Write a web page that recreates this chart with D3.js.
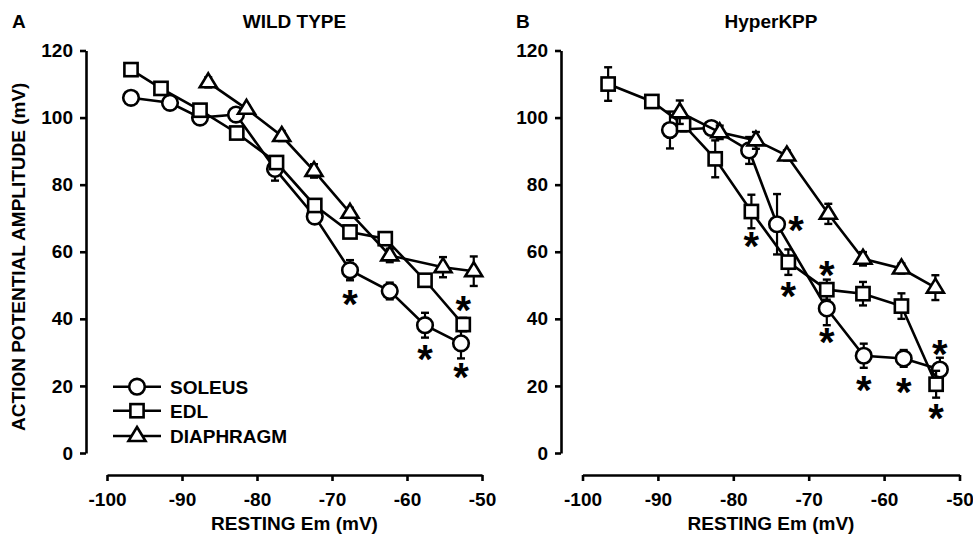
<!DOCTYPE html>
<html><head><meta charset="utf-8">
<script src="https://cdn.jsdelivr.net/npm/d3@7"></script>
<style>
body{margin:0;background:#fff}
text{font-family:"Liberation Sans",Arial,sans-serif;font-weight:bold;fill:#000}
</style>
</head><body><svg id="c" width="973" height="540"></svg>
<script>
// ---- data ----
const xTicks=[-100,-90,-80,-70,-60,-50];
const yTicks=[0,20,40,60,80,100,120];
const seriesNames=["SOLEUS","EDL","DIAPHRAGM"];
const seriesShapes=["circle","square","triangle"];
const panelLetters=["A","B"];
const panelTitles=["WILD TYPE","HyperKPP"];
const xLabel="RESTING Em (mV)";
const yLabel="ACTION POTENTIAL AMPLITUDE (mV)";

// Panel A (wild type)
const wtSoleusX=[-96.8,-91.6,-87.6,-82.8,-77.6,-72.3,-67.6,-62.3,-57.6,-52.8];
const wtSoleusY=[105.9,104.4,100.0,100.9,84.7,70.5,54.5,48.3,38.1,32.7];
const wtSoleusErr=[1,1,1,1.5,3.5,1.5,3,2.5,3.7,4.5];
const wtEdlX=[-96.8,-92.8,-87.6,-82.7,-77.4,-72.3,-67.6,-62.9,-57.6,-52.5];
const wtEdlY=[114.3,108.7,102.2,95.4,86.6,73.8,65.9,63.9,51.5,38.3];
const wtEdlErr=[1,1,1,1,1.5,1.5,1.5,1.5,1.5,2];
const wtDiaX=[-86.5,-81.4,-76.7,-72.4,-67.6,-62.3,-55.2,-51.1];
const wtDiaY=[110.5,102.6,94.5,84.1,71.6,58.9,55.4,54.2];
const wtDiaErr=[1.5,1,1.5,2,1.5,2,3,4.4];

// Panel B (HyperKPP)
const hkSoleusX=[-88.4,-82.9,-77.9,-74.2,-67.6,-62.7,-57.4,-52.6];
const hkSoleusY=[96.3,96.9,90.2,68.2,43.1,29.0,28.2,24.9];
const hkSoleusErr=[5.5,1.5,4,9,5,3.6,2.5,3.5];
const hkEdlX=[-96.6,-90.8,-86.6,-82.4,-77.6,-72.7,-67.6,-62.8,-57.7,-53.1];
const hkEdlY=[110,104.8,97.9,87.7,72,56.9,48.7,47.5,43.8,20.5];
const hkEdlErr=[5,1,2,5.5,5,3.8,3,3.5,3.8,4];
const hkDiaX=[-87.1,-81.8,-77,-72.9,-67.4,-62.8,-57.7,-53.2];
const hkDiaY=[101.6,95.6,93.2,88.7,71.3,57.9,55,49.3];
const hkDiaErr=[3.5,2,2.5,1.5,3,2,1.5,3.7];

// significance asterisks: [series index, point index, placement]
const wtStars=[[0,6,"below"],[0,8,"below"],[0,9,"below"],[1,9,"above"]];
const hkStars=[[0,3,"right"],[0,4,"below"],[0,5,"below"],[0,6,"below"],[0,7,"above"],
               [1,4,"below"],[1,5,"below"],[1,6,"above"],[1,9,"below"]];

// ---- build ----
function mk(xs,ys,es){return xs.map((x,i)=>({x:x,y:ys[i],e:es[i]}));}
const panels=[
  {letter:panelLetters[0],title:panelTitles[0],showY:true,stars:wtStars,
   series:[mk(wtSoleusX,wtSoleusY,wtSoleusErr),mk(wtEdlX,wtEdlY,wtEdlErr),mk(wtDiaX,wtDiaY,wtDiaErr)],
   yAxisX:86,x0:107,x1:482,letterX:12},
  {letter:panelLetters[1],title:panelTitles[1],showY:false,stars:hkStars,
   series:[mk(hkSoleusX,hkSoleusY,hkSoleusErr),mk(hkEdlX,hkEdlY,hkEdlErr),mk(hkDiaX,hkDiaY,hkDiaErr)],
   yAxisX:561,x0:582.5,x1:959.5,letterX:516}
];

const svg=d3.select("#c");
const FS=19;
const yTop=50.5, yBot=453, xAxisY=475;
const SFS=40;

function marker(g,shape,cx,cy){
  const sw=2.6;
  if(shape==="circle"){
    g.append("circle").attr("cx",cx).attr("cy",cy).attr("r",7.8)
     .attr("fill","#fff").attr("stroke","#000").attr("stroke-width",sw);
  }else if(shape==="square"){
    g.append("rect").attr("x",cx-6.6).attr("y",cy-6.6).attr("width",13.2).attr("height",13.2)
     .attr("fill","#fff").attr("stroke","#000").attr("stroke-width",sw);
  }else{
    const s=8;
    g.append("path").attr("d",`M${cx},${cy-s-1}L${cx+s+0.5},${cy+s*0.62}L${cx-s-0.5},${cy+s*0.62}Z`)
     .attr("fill","#fff").attr("stroke","#000").attr("stroke-width",sw).attr("stroke-linejoin","miter");
  }
}

panels.forEach(p=>{
  const x=d3.scaleLinear().domain([-100,-50]).range([p.x0,p.x1]);
  const y=d3.scaleLinear().domain([0,120]).range([yBot,yTop]);
  const g=svg.append("g");

  const ya=g.append("g").attr("transform",`translate(${p.yAxisX},0)`)
    .call(d3.axisLeft(y).tickValues(yTicks).tickFormat(d=>String(d)).tickSize(6).tickSizeOuter(0).tickPadding(7));
  const xa=g.append("g").attr("transform",`translate(0,${xAxisY})`)
    .call(d3.axisBottom(x).tickValues(xTicks).tickFormat(d=>String(d)).tickSize(6).tickSizeOuter(0).tickPadding(12));
  [ya,xa].forEach(a=>{
    a.select(".domain").attr("stroke","#000").attr("stroke-width",2.6);
    a.selectAll(".tick line").attr("stroke","#000").attr("stroke-width",2.6);
    a.selectAll(".tick text").style("font-size",FS+"px").style("font-weight","bold")
      .style("font-family",'"Liberation Sans",Arial,sans-serif').attr("fill","#000");
  });

  g.append("text").attr("x",(p.x0+p.x1)/2).attr("y",530).attr("text-anchor","middle")
   .style("font-size",FS+"px").text(xLabel);
  g.append("text").attr("x",(p.x0+p.x1)/2).attr("y",28).attr("text-anchor","middle")
   .style("font-size",FS+"px").text(p.title);
  g.append("text").attr("x",p.letterX).attr("y",28).style("font-size",FS+"px").text(p.letter);
  if(p.showY){
    g.append("text").attr("transform",`translate(25,${(yTop+yBot)/2+5}) rotate(-90)`)
     .attr("text-anchor","middle").style("font-size",FS+"px").text(yLabel);
  }

  const line=d3.line().x(d=>x(d.x)).y(d=>y(d.y));
  p.series.forEach((data,si)=>{
    const sg=g.append("g");
    sg.append("path").datum(data).attr("d",line).attr("fill","none")
      .attr("stroke","#000").attr("stroke-width",2.6);
    data.forEach(d=>{
      const cx=x(d.x), t=y(d.y+d.e), b=y(d.y-d.e);
      sg.append("line").attr("x1",cx).attr("x2",cx).attr("y1",t).attr("y2",b)
        .attr("stroke","#000").attr("stroke-width",2.2);
      [t,b].forEach(v=>sg.append("line").attr("x1",cx-4).attr("x2",cx+4).attr("y1",v).attr("y2",v)
        .attr("stroke","#000").attr("stroke-width",2.4));
    });
    data.forEach(d=>marker(sg,seriesShapes[si],x(d.x),y(d.y)));
  });

  p.stars.forEach(([si,pi,pos])=>{
    const d=p.series[si][pi];
    let cx=x(d.x), cy=y(d.y);
    if(pos==="below")cy+=28; else if(pos==="above")cy-=21; else cx+=19;
    g.append("text").attr("x",cx).attr("y",cy+SFS*0.5).attr("text-anchor","middle")
     .style("font-size",SFS+"px").style("font-weight","bold").text("*");
  });
});

const lg=svg.append("g");
const legY=[386.7,410.7,436];
seriesNames.forEach((n,i)=>{
  lg.append("line").attr("x1",113).attr("x2",161).attr("y1",legY[i]).attr("y2",legY[i])
    .attr("stroke","#000").attr("stroke-width",2.6);
  marker(lg,seriesShapes[i],137,legY[i]);
  lg.append("text").attr("x",170).attr("y",legY[i]+7).style("font-size",FS+"px").text(n);
});
</script>
</body></html>
